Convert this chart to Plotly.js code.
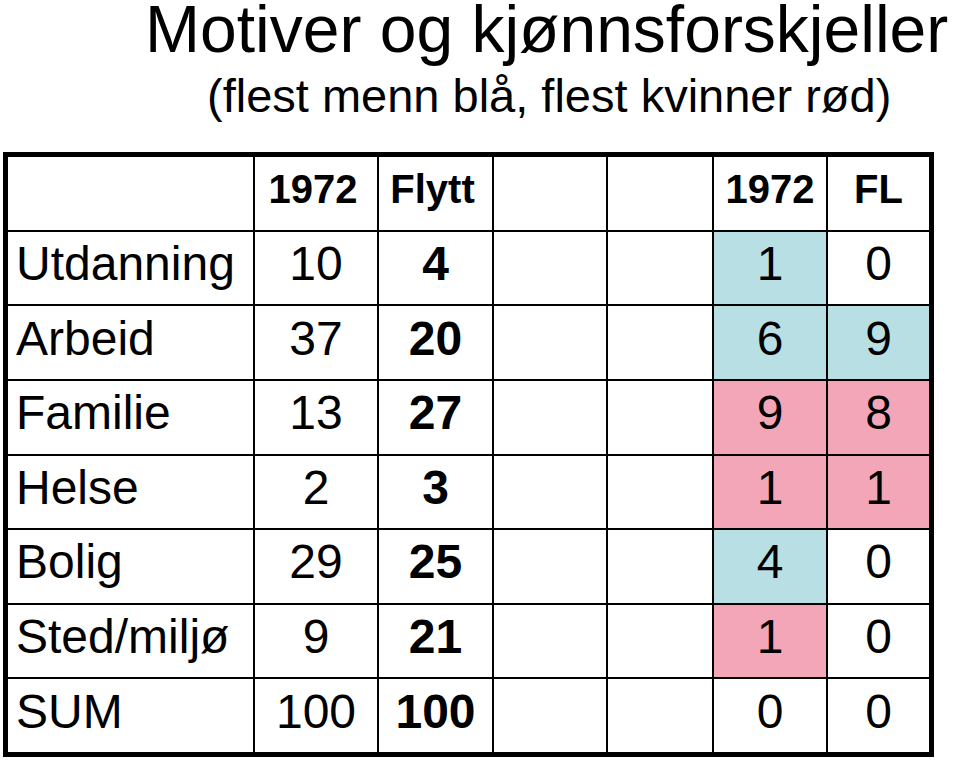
<!DOCTYPE html>
<html>
<head>
<meta charset="utf-8">
<script src="https://cdn.plot.ly/plotly-3.0.1.min.js"></script>
<style>
    body { margin: 0; background: #fff; }
    #chart { width: 960px; height: 760px; }
</style>
</head>
<body>
<div id="chart"></div>
<script>
// Table contents
const headers = ['', '1972', 'Flytt', '', '', '1972', 'FL'];
const rowLabels = ['Utdanning', 'Arbeid', 'Familie', 'Helse', 'Bolig', 'Sted/miljø', 'SUM'];
const values1972 = [10, 37, 13, 2, 29, 9, 100];
const valuesFlytt = [4, 20, 27, 3, 25, 21, 100];
const values1972b = [1, 6, 9, 1, 4, 1, 0];
const valuesFL = [0, 9, 8, 1, 0, 0, 0];
// cell shading: 'm' = flest menn (blå), 'k' = flest kvinner (rød)
const shade1972b = ['m', 'm', 'k', 'k', 'm', 'k', ''];
const shadeFL = ['', 'm', 'k', 'k', '', '', ''];

// Layout helpers
const colWidths = [247, 124, 115, 114, 106, 114, 103];
const BLUE = '#b8dfe4';
const PINK = '#f4a6b9';
const FONT = 'Liberation Sans, Arial, sans-serif';

const colEdges = [0];
colWidths.forEach(w => colEdges.push(colEdges[colEdges.length - 1] + w));
const nRows = rowLabels.length + 1;
const rowEdges = [];
for (let i = 0; i <= nRows; i++) rowEdges.push(i);

// cell fill codes for heatmap
const shadeCode = s => (s === 'm' ? 1 : s === 'k' ? 2 : 0);
const z = [headers.map(() => 0)];
rowLabels.forEach((_, i) => {
    z.push([0, 0, 0, 0, 0, shadeCode(shade1972b[i]), shadeCode(shadeFL[i])]);
});

const fillTrace = {
    type: 'heatmap',
    x: colEdges,
    y: rowEdges,
    z: z,
    zmin: 0,
    zmax: 2,
    colorscale: [[0, '#ffffff'], [0.333, '#ffffff'], [0.333, BLUE], [0.667, BLUE], [0.667, PINK], [1, PINK]],
    showscale: false,
    xgap: 2,
    ygap: 2,
    hoverinfo: 'skip'
};

// text cells
const tx = [], ty = [], tt = [], tpos = [], tsize = [];
const colCenter = c => (colEdges[c] + colEdges[c + 1]) / 2;

function addText(x, y, text, pos, size) {
    tx.push(x); ty.push(y); tt.push(text); tpos.push(pos); tsize.push(size);
}

headers.forEach((h, c) => {
    const shift = (c === 1 || c === 2) ? -3 : 0;
    if (h) addText(colCenter(c) + shift, 0.5, '<b>' + h + '</b>', 'middle center', 40);
});

rowLabels.forEach((label, i) => {
    const y = i + 1.5;
    addText(colEdges[0] + 9, y, label, 'middle right', 48);
    addText(colCenter(1), y, String(values1972[i]), 'middle center', 48);
    addText(colCenter(2), y, '<b>' + valuesFlytt[i] + '</b>', 'middle center', 48);
    addText(colCenter(5), y, String(values1972b[i]), 'middle center', 48);
    addText(colCenter(6), y, String(valuesFL[i]), 'middle center', 48);
});

const textTrace = {
    type: 'scatter',
    mode: 'text',
    x: tx,
    y: ty,
    text: tt,
    textposition: tpos,
    textfont: { family: FONT, size: tsize, color: '#000' },
    hoverinfo: 'skip'
};

const layout = {
    width: 960,
    height: 760,
    margin: { l: 7, r: 30, t: 156, b: 7 },
    paper_bgcolor: '#ffffff',
    plot_bgcolor: '#000000',
    showlegend: false,
    font: { family: FONT, color: '#000' },
    xaxis: {
        range: [0, colEdges[colEdges.length - 1]],
        showgrid: false, zeroline: false, showticklabels: false, ticks: '',
        showline: true, mirror: true, linecolor: '#000', linewidth: 4,
        fixedrange: true
    },
    yaxis: {
        range: [nRows, 0],
        showgrid: false, zeroline: false, showticklabels: false, ticks: '',
        showline: true, mirror: true, linecolor: '#000', linewidth: 4,
        fixedrange: true
    },
    annotations: [
        {
            text: 'Motiver og kjønnsforskjeller',
            xref: 'paper', yref: 'paper', x: 0.585, y: 1.213,
            xanchor: 'center', yanchor: 'middle', showarrow: false,
            font: { family: FONT, size: 66, color: '#000' }
        },
        {
            text: '(flest menn blå, flest kvinner rød)',
            xref: 'paper', yref: 'paper', x: 0.587, y: 1.102,
            xanchor: 'center', yanchor: 'middle', showarrow: false,
            font: { family: FONT, size: 47, color: '#000' }
        }
    ]
};

Plotly.newPlot('chart', [fillTrace, textTrace], layout, { displayModeBar: false, staticPlot: true });
</script>
</body>
</html>
